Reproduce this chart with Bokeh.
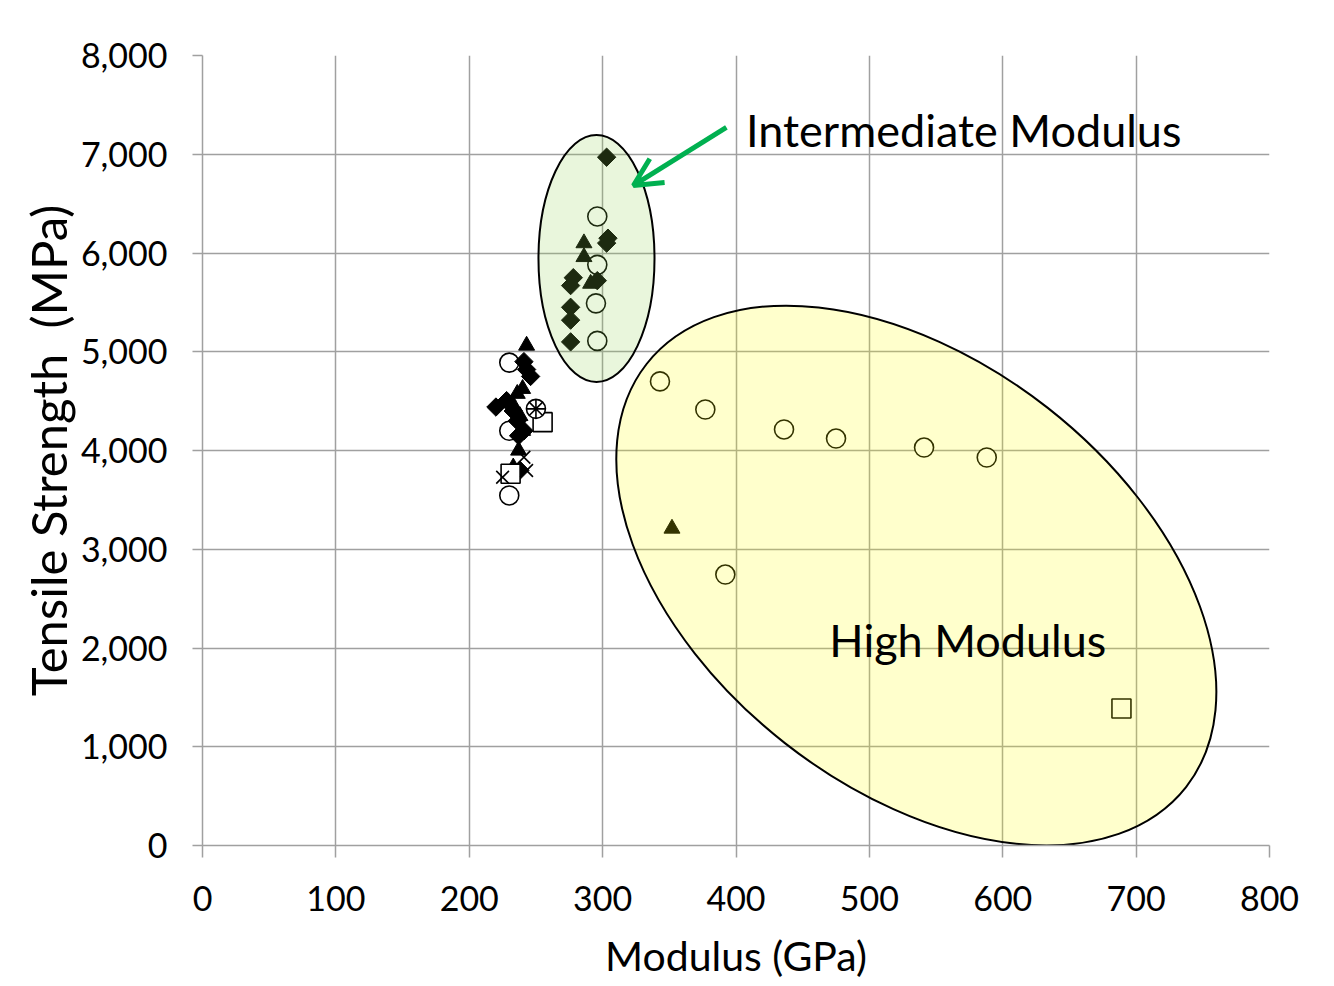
from bokeh.plotting import figure
from bokeh.models import Range1d, FixedTicker, NumeralTickFormatter, Label, Arrow, OpenHead
from bokeh.embed import file_html
from bokeh.resources import INLINE
import numpy as np

# ---------------- data (Modulus GPa, Tensile Strength MPa) ----------------
circle_mod = [230, 230, 230, 296, 296, 295, 296, 343, 377, 436, 475, 541, 588, 392]
circle_str = [4890, 4200, 3545, 6370, 5880, 5490, 5110, 4700, 4415, 4213, 4121, 4030, 3929, 2744]

diamond_mod = [303, 304, 303, 278, 276, 296, 276, 276, 276,
               241, 243, 246, 220, 228, 233, 236, 237, 241, 238]
diamond_str = [6970, 6150, 6100, 5750, 5670, 5720, 5450, 5320, 5100,
               4900, 4820, 4750, 4440, 4505, 4400, 4300, 4150, 4200, 3800]

triangle_mod = [286, 286, 291, 243, 240, 236, 232, 238, 240, 237, 233, 352]
triangle_str = [6100, 5960, 5690, 5063, 4625, 4575, 4480, 4350, 4200, 4000, 3830, 3210]

square_mod = [255, 231, 689]
square_str = [4287, 3764, 1387]

cross_mod = [225, 241, 243]
cross_str = [3729, 3932, 3797]

asterisk_mod = [250]
asterisk_str = [4422]

x_ticks = [0, 100, 200, 300, 400, 500, 600, 700, 800]
y_ticks = [0, 1000, 2000, 3000, 4000, 5000, 6000, 7000, 8000]

FONT = "Lato"

p = figure(width=1326, height=984,
           x_range=Range1d(0, 800), y_range=Range1d(0, 8000),
           output_backend="svg", toolbar_location=None,
           min_border_left=202, min_border_right=57,
           min_border_top=55, min_border_bottom=139)
p.outline_line_color = None
p.background_fill_color = "white"

# grid
p.xgrid.ticker = FixedTicker(ticks=x_ticks)
p.ygrid.ticker = FixedTicker(ticks=y_ticks)
for g in (p.xgrid, p.ygrid):
    g.grid_line_color = "#a0a0a0"
    g.grid_line_width = 1.5

# axes
p.xaxis.ticker = FixedTicker(ticks=x_ticks)
p.yaxis.ticker = FixedTicker(ticks=y_ticks)
p.yaxis.formatter = NumeralTickFormatter(format="0,0")
for ax in (p.xaxis, p.yaxis):
    ax.axis_line_color = "#a0a0a0"
    ax.axis_line_width = 1.5
    ax.major_tick_line_color = "#a0a0a0"
    ax.major_tick_line_width = 1.5
    ax.major_tick_in = 0
    ax.minor_tick_line_color = None
    ax.major_label_text_font = FONT
    ax.major_label_text_font_size = "34px"
    ax.major_label_text_color = "black"
    ax.axis_label_text_font = FONT
    ax.axis_label_text_font_style = "normal"
    ax.axis_label_text_color = "black"
p.xaxis.major_tick_out = 12
p.yaxis.major_tick_out = 10
p.xaxis.major_label_standoff = 28
p.yaxis.major_label_standoff = 25
p.xaxis.axis_label = "Modulus (GPa)"
p.xaxis.axis_label_text_font_size = "41px"
p.xaxis.axis_label_standoff = 17
p.yaxis.axis_label = "Tensile Strength\u00a0 (MPa)"
p.yaxis.axis_label_text_font_size = "49px"
p.yaxis.axis_label_standoff = 1

# markers
p.scatter(circle_mod, circle_str, marker="circle", size=19,
          line_color="black", line_width=1.6, fill_color="white")
p.scatter(diamond_mod, diamond_str, marker="square", size=13, angle=np.pi / 4,
          line_color="black", fill_color="black")
p.scatter(triangle_mod, triangle_str, marker="triangle", size=16,
          line_color="black", fill_color="black")
p.scatter(square_mod, square_str, marker="square", size=19,
          line_color="black", line_width=1.6, fill_color="white")
p.scatter(cross_mod, cross_str, marker="x", size=18,
          line_color="black", line_width=1.6)
p.scatter(asterisk_mod, asterisk_str, marker="circle", size=19,
          line_color="black", line_width=1.6, fill_color="white")
p.scatter(asterisk_mod, asterisk_str, marker="asterisk", size=19,
          line_color="black", line_width=1.6)

# highlight ellipses (drawn over the markers, semi-transparent)
p.ellipse(x=[295.4], y=[5944], width=[87], height=[2501], angle=[0],
          fill_color="#92d050", fill_alpha=0.2, line_color="black", line_width=2)
p.ellipse(x=[535.2], y=[2734], width=[514], height=[4316], angle=[-0.665],
          fill_color="#ffff00", fill_alpha=0.2, line_color="black", line_width=2)

# annotations
p.add_layout(Arrow(end=OpenHead(size=28, line_color="#00b050", line_width=5),
                   x_start=392.8, y_start=7271, x_end=323.1, y_end=6684,
                   line_color="#00b050", line_width=5))
p.add_layout(Label(x=407.5, y=7250, text="Intermediate Modulus",
                   text_font=FONT, text_font_size="45px", text_color="black",
                   text_baseline="alphabetic"))
p.add_layout(Label(x=470, y=2086, text="High Modulus",
                   text_font=FONT, text_font_size="45px", text_color="black",
                   text_baseline="alphabetic"))

open("out.html", "w").write(file_html(p, INLINE))
